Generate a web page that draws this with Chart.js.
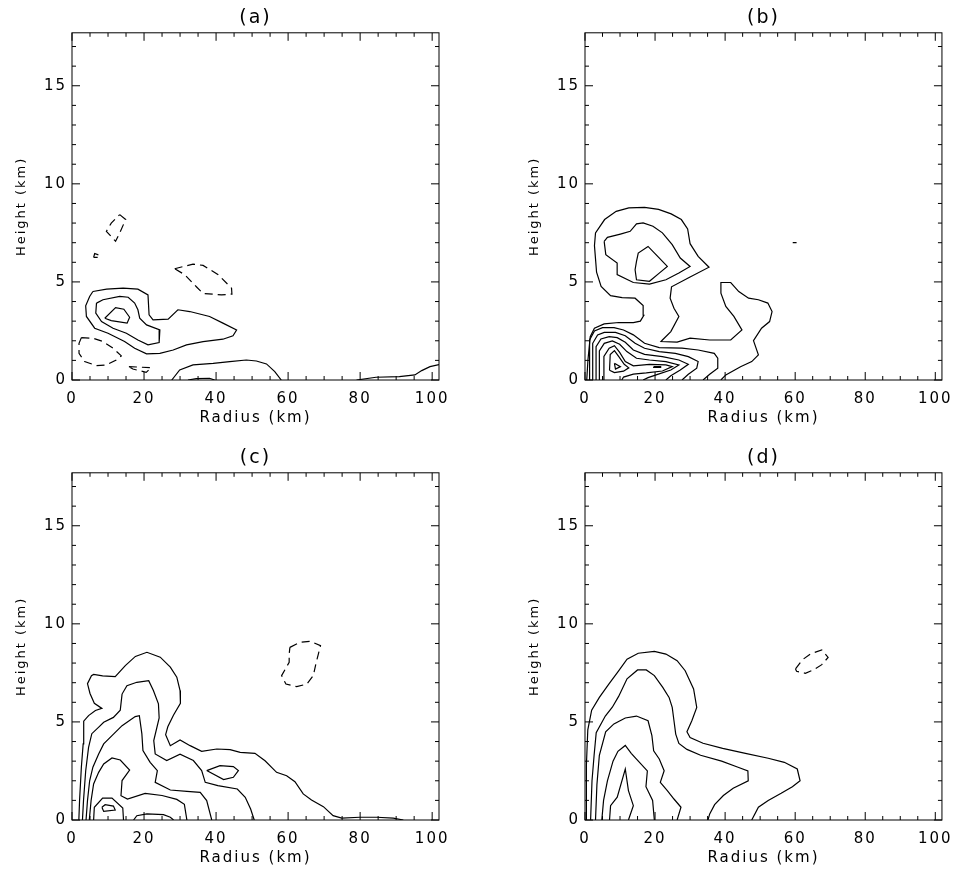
<!DOCTYPE html>
<html>
<head>
<meta charset="utf-8">
<script src="https://cdn.jsdelivr.net/npm/chart.js@4.4.1/dist/chart.umd.min.js"></script>
<style>
  body { margin: 0; background: #fff; width: 963px; height: 871px; overflow: hidden; position: relative; }
  .painel { position: absolute; }
  canvas { display: block; }
</style>
</head>
<body>
<div class="painel" style="left:0;top:0"><canvas id="grafA" width="481" height="430"></canvas></div>
<div class="painel" style="left:513px;top:0"><canvas id="grafB" width="450" height="430"></canvas></div>
<div class="painel" style="left:0;top:440px"><canvas id="grafC" width="481" height="430"></canvas></div>
<div class="painel" style="left:513px;top:440px"><canvas id="grafD" width="450" height="430"></canvas></div>
<script>
// contour lines, [radius km, height km]

const panelLabels = ['(a)', '(b)', '(c)', '(d)'];

// (a)
const aOuter = [[5.8,4.51],[9.6,4.63],[14.2,4.68],[18.3,4.63],[21.1,4.34],[21.4,3.32],[22.5,3.07],[26.7,3.1],[29.4,3.58],[32.7,3.49],[38.2,3.24],[41.9,2.9],[45.7,2.55],[44.7,2.25],[41.9,2.08],[36.4,1.96],[31.8,1.79],[28.1,1.53],[24.4,1.36],[20.7,1.33],[17.4,1.62],[14.6,1.96],[10.0,2.38],[6.3,2.64],[4.0,3.24],[3.8,3.78],[4.9,4.26],[5.8,4.51]];
const aMiddle = [[6.8,3.92],[8.6,4.09],[13.25,4.26],[15.6,4.22],[17.4,3.92],[18.3,3.58],[18.8,3.15],[20.7,2.81],[24.4,2.55],[24.2,1.91],[21.1,1.79],[18.3,2.04],[15.1,2.38],[11.4,2.64],[8.2,2.98],[6.6,3.41],[6.8,3.92]];
const aInner = [[9.1,3.15],[12.1,3.69],[14.4,3.61],[16.0,3.2],[15.3,2.9],[10.9,3.03],[9.1,3.15]];
const aLow = [[27.7,0],[29.9,0.51],[33.6,0.77],[39.2,0.85],[43.8,0.94],[48.4,1.02],[51.2,0.97],[54.0,0.82],[56.3,0.43],[58.1,0]];
const aLowCore = [[32.2,0],[34.5,0.07],[38.2,0.09],[39.6,0]];
const aEdge = [[79,0],[84.4,0.14],[90.9,0.17],[95.2,0.26],[97.1,0.48],[99.4,0.68],[101.9,0.78]];
const aNeg1 = [[13.25,8.43],[14.9,8.18],[13.25,7.5],[12.1,7.07],[9.55,7.58],[10.9,8.0],[13.25,8.43]];
const aNeg2 = [[6.0,6.25],[6.3,6.45],[7.8,6.35],[7.2,6.25],[6.0,6.25]];
const aNeg3 = [[28.5,5.67],[33.6,5.91],[36.4,5.84],[40.6,5.37],[44.3,4.68],[44.4,4.38],[41.5,4.34],[36.4,4.41],[34.6,4.74],[31.3,5.37],[28.5,5.67]];
const aNeg4 = [[2.6,2.16],[5.8,2.13],[8.6,1.96],[11.4,1.62],[13.7,1.23],[12.3,1.02],[9.55,0.77],[6.8,0.73],[3.5,0.94],[1.95,1.36],[1.95,1.87],[2.6,2.16]];
const aNeg5 = [[15.8,0.68],[22.0,0.63],[20.6,0.39],[16.9,0.56],[15.8,0.68]];

// (b)
const bOuter = [[0.5,0],[0.84,1.02],[1.49,2.21],[2.69,2.64],[5.47,2.86],[9.64,2.93],[13.8,2.93],[15.8,3.0],[16.8,3.3],[16.6,3.8],[14.3,4.17],[10.6,4.2],[7.3,4.3],[4.6,4.77],[3.3,5.5],[2.7,6.85],[3.0,7.5],[5.6,8.18],[8.9,8.6],[12.5,8.77],[17.0,8.8],[21.0,8.7],[24.6,8.47],[27.5,8.18],[29.3,7.7],[30.0,6.95],[32.3,6.3],[35.4,5.75],[30.0,5.25],[24.7,4.75],[24.3,4.17],[25.4,3.66],[26.8,3.24],[24.5,2.47],[22.1,2.04],[21.7,1.96],[26.3,1.93],[30.0,2.13],[35.6,2.04],[41.6,2.04],[44.8,2.55],[42.5,3.24],[40.2,3.75],[38.8,4.43],[38.8,4.97],[41.6,4.97],[43.9,4.51],[46.7,4.17],[49.5,4.09],[52.2,3.92],[53.4,3.49],[52.7,2.98],[50.4,2.64],[48.1,2.01],[49.5,1.28],[47.6,0.94],[44.4,0.68],[40.2,0.26],[38.8,0]];
const bRing2 = [[5.47,7.07],[5.94,6.39],[9.18,5.96],[9.18,5.37],[13.8,4.97],[18.4,4.89],[23.1,5.11],[26.8,5.45],[30.0,5.79],[27.2,6.22],[24.9,6.9],[22.1,7.5],[19.4,7.84],[16.6,8.01],[14.7,7.96],[12.9,7.58],[10.1,7.44],[6.4,7.27],[5.47,7.07]];
const bRing3 = [[14.7,6.05],[15.2,6.47],[18.0,6.81],[20.75,6.3],[23.5,5.79],[21.2,5.45],[18.4,5.03],[14.7,5.11],[14.3,5.62],[14.7,6.05]];
const bLow2 = [[1.31,0],[1.31,2.04],[2.7,2.5],[5.0,2.67],[8.3,2.67],[11.0,2.55],[13.8,2.3],[17.0,1.87],[21.2,1.65],[27.7,1.62],[32.3,1.53],[36.9,1.36],[37.9,1.11],[37.9,0.6],[35.6,0.29],[33.7,0]];
const bLow3 = [[2.2,0],[2.2,1.87],[3.6,2.3],[5.5,2.43],[8.7,2.43],[11.5,2.26],[14.3,1.87],[17.0,1.62],[21.2,1.45],[25.8,1.36],[29.5,1.19],[32.3,0.94],[31.9,0.6],[29.5,0.29],[27.7,0]];
const bLow4 = [[3.16,0],[3.16,1.7],[4.55,2.09],[6.9,2.21],[9.2,2.16],[11.5,1.92],[13.8,1.53],[17.0,1.31],[22.1,1.19],[26.8,1.02],[29.5,0.8],[27.2,0.51],[24.5,0.22],[23.1,0]];
const bLow5 = [[4.1,0],[4.1,1.48],[5.5,1.87],[7.8,1.99],[9.9,1.82],[11.95,1.45],[14.7,1.11],[18.4,1.02],[23.1,0.94],[26.8,0.77],[24.5,0.51],[20.75,0.29],[18.0,0.12],[16.6,0]];
const bLow6 = [[5.2,0],[5.4,1.2],[6.9,1.62],[8.4,1.75],[9.9,1.41],[11.5,0.94],[13.8,0.72],[18.4,0.8],[23.1,0.77],[24.9,0.68],[22.1,0.46],[17.5,0.36],[13.8,0.3],[11.0,0.15],[10.5,0]];
const bLow7 = [[7.0,0.5],[7.2,1.3],[8.4,1.5],[9.6,1.2],[11.2,0.8],[12.5,0.62],[11.0,0.45],[8.4,0.38],[7.0,0.5]];
const bCore = [[8.4,0.85],[10.1,0.68],[8.7,0.56],[8.4,0.85]];
const bDash = [[19.6,0.68],[21.6,0.68],[21.6,0.64],[19.6,0.64],[19.6,0.68]];
const bDot = [[59.3,7.0],[60.4,7.0]];

// (c)
const cOuter = [[1.9,0],[2.1,0.99],[2.6,2.69],[3.1,3.88],[3.3,4.56],[3.2,5.04],[4.6,5.32],[6.5,5.58],[8.3,5.69],[6.2,5.95],[5.0,6.45],[4.3,6.95],[5.4,7.36],[6.0,7.42],[8.5,7.35],[12.0,7.31],[14.8,7.87],[17.6,8.34],[20.8,8.55],[24.5,8.3],[27.3,7.79],[29.1,7.28],[30.0,6.6],[30.1,5.95],[28.2,5.35],[26.6,4.75],[26.0,4.35],[27.3,3.79],[30.0,4.08],[32.8,3.79],[36.0,3.5],[40.2,3.62],[43.9,3.59],[46.7,3.45],[50.8,3.4],[53.6,3.02],[56.8,2.43],[59.6,2.26],[61.9,1.95],[64.2,1.33],[66.5,1.02],[69.8,0.68],[72.5,0.22],[74.9,0.1],[79.9,0.14],[84.6,0.14],[89.2,0.1],[92.0,0]];
const cRing2 = [[2.9,0],[3.2,1.0],[3.8,2.5],[4.6,3.7],[5.5,4.4],[7.5,4.75],[8.8,4.98],[11.5,5.23],[13.4,5.6],[13.9,6.42],[15.25,6.85],[18.0,7.02],[21.3,7.1],[22.6,6.6],[24.0,5.92],[24.2,5.2],[22.7,4.05],[23.1,3.37],[26.3,3.03],[30.0,3.35],[33.7,3.03],[36.0,2.52],[37.0,1.92],[40.5,1.75],[45.9,1.58],[48.1,1.16],[49.6,0.56],[50.6,0]];
const cRing3 = [[3.9,0],[4.3,0.99],[4.9,2.0],[5.8,2.69],[7.4,3.37],[8.8,3.88],[11.1,4.3],[13.9,4.81],[17.55,5.27],[18.7,5.32],[19.4,4.39],[19.7,3.54],[21.7,2.94],[23.7,2.52],[23.1,1.92],[27.3,1.53],[31.9,1.46],[35.6,1.41],[37.4,0.99],[38.8,0]];
const cRing4 = [[4.8,0],[5.3,0.99],[6.0,1.84],[7.4,2.43],[8.8,2.86],[11.1,3.16],[13.4,3.06],[16.0,2.55],[13.9,2.01],[13.6,1.24],[15.4,1.07],[20.3,1.36],[25.0,1.25],[29.1,1.05],[31.2,0.8],[31.9,0]];
const cLoop = [[6.0,0],[6.2,0.65],[8.5,1.12],[11.1,1.12],[14.1,0.61],[14.3,0]];
const cCore = [[8.3,0.65],[9.2,0.78],[11.5,0.71],[12.0,0.51],[8.8,0.44],[8.3,0.65]];
const cHump = [[17.1,0],[18.0,0.22],[20.8,0.31],[25.4,0.27],[27.3,0.14],[28.2,0]];
const cBlob = [[37.4,2.52],[41.1,2.77],[44.8,2.72],[46.2,2.52],[44.8,2.18],[42.1,2.06],[37.4,2.52]];
const cNeg = [[60.5,8.8],[63.3,9.06],[66.1,9.11],[69.0,8.89],[68.4,8.46],[67.7,7.95],[67.0,7.36],[65.2,6.93],[62.4,6.8],[59.4,6.93],[58.2,7.36],[59.4,7.75],[60.3,8.04],[60.3,8.46],[60.5,8.8]];

// (d)
const dOuter = [[0.3,0],[0.4,2.8],[0.8,4.6],[1.9,5.6],[4.1,6.25],[6.9,6.95],[9.6,7.6],[12.0,8.2],[15.2,8.5],[19.8,8.6],[23.1,8.46],[26.3,8.12],[28.6,7.61],[31.0,6.68],[31.9,5.74],[30.5,5.06],[29.1,4.5],[30.0,4.2],[33.7,3.91],[39.3,3.65],[45.8,3.4],[52.3,3.15],[56.9,2.94],[60.6,2.6],[61.4,2.0],[59.2,1.7],[56.0,1.36],[52.3,0.99],[49.5,0.65],[47.6,0]];
const dRing2 = [[1.6,0],[2.0,2.0],[2.6,3.3],[3.2,4.45],[5.8,5.3],[7.8,5.75],[9.6,6.3],[12.0,7.2],[15.0,7.65],[17.5,7.65],[19.8,7.36],[22.2,6.76],[24.0,6.25],[24.9,5.74],[25.4,5.06],[25.9,4.38],[26.8,3.9],[29.1,3.6],[33.0,3.3],[39.0,3.0],[43.5,2.7],[46.5,2.5],[46.6,2.0],[42.3,1.62],[39.5,1.25],[37.0,0.78],[35.6,0.31],[35.1,0]];
const dRing3 = [[3.0,0],[3.4,1.8],[4.1,3.3],[5.9,4.5],[8.25,4.9],[11.5,5.2],[14.7,5.3],[18.0,5.06],[19.1,4.3],[19.6,3.53],[21.2,3.11],[22.6,2.51],[21.5,1.92],[23.5,1.5],[25.4,1.07],[27.4,0.65],[26.3,0]];
const dRing4 = [[4.8,0],[5.3,1.0],[6.4,2.0],[8.0,3.0],[9.4,3.5],[11.5,3.8],[13.2,3.4],[14.7,3.1],[17.8,2.5],[17.4,1.7],[19.3,1.0],[19.8,0]];
const dRing5 = [[7.0,0],[7.3,0.73],[9.2,1.16],[11.5,2.6],[12.4,1.5],[13.8,0.73],[12.4,0]];
const dNeg = [[60.1,7.7],[62.0,8.16],[64.3,8.46],[67.6,8.67],[69.4,8.29],[67.6,7.92],[65.2,7.65],[62.9,7.48],[60.4,7.58],[60.1,7.7]];

const FONT = 'DejaVu Sans';

// solid lines are positive, dashed negative
function contour(points, dashed) {
    return {
        data: points.map(p => ({x: p[0], y: p[1]})),
        showLine: true,
        borderColor: '#000',
        borderWidth: 1.2,
        borderDash: dashed ? [8, 5] : [],
        pointRadius: 0,
        tension: 0
    };
}

// box frame with inward ticks on all four sides
const frameTicks = {
    id: 'frameTicks',
    beforeUpdate(chart) { chart.ctx.letterSpacing = '2px'; },
    beforeDraw(chart) { chart.ctx.letterSpacing = '2px'; },
    afterDraw(chart) {
        const {ctx, chartArea: a, scales: {x, y}} = chart;
        ctx.save();
        ctx.strokeStyle = '#000';
        ctx.lineWidth = 1;
        ctx.strokeRect(a.left, a.top, a.right - a.left, a.bottom - a.top);
        ctx.beginPath();
        for (let v = 0; v <= 100; v += 5) {
            const px = x.getPixelForValue(v);
            const len = v % 20 === 0 ? 8 : 4;
            ctx.moveTo(px, a.bottom); ctx.lineTo(px, a.bottom - len);
            ctx.moveTo(px, a.top); ctx.lineTo(px, a.top + len);
        }
        for (let v = 0; v <= 17; v++) {
            const py = y.getPixelForValue(v);
            const len = v % 5 === 0 ? 8 : 4;
            ctx.moveTo(a.left, py); ctx.lineTo(a.left + len, py);
            ctx.moveTo(a.right, py); ctx.lineTo(a.right - len, py);
        }
        ctx.stroke();
        ctx.restore();
    }
};

function desenhaPainel(id, label, linhas, padRight) {
    new Chart(document.getElementById(id), {
        type: 'scatter',
        data: { datasets: linhas.map(l => contour(l[0], l[1])) },
        options: {
            responsive: false,
            animation: false,
            events: [],
            layout: { padding: { left: 0, right: padRight, top: 0, bottom: 0 } },
            plugins: {
                legend: { display: false },
                tooltip: { enabled: false },
                title: {
                    display: true, text: label, fullSize: false, color: '#000',
                    font: { family: FONT, size: 19, weight: 'normal' },
                    padding: { top: 7, bottom: 3 }
                }
            },
            scales: {
                x: {
                    type: 'linear', min: 0, max: 101.9,
                    grid: { display: false, drawTicks: false },
                    border: { display: false },
                    ticks: {
                        stepSize: 20, includeBounds: false, autoSkip: false, maxRotation: 0,
                        padding: 10, color: '#000', font: { family: FONT, size: 15 }
                    },
                    title: {
                        display: true, text: 'Radius (km)', color: '#000',
                        font: { family: FONT, size: 15 }, padding: { top: 0, bottom: 3 }
                    },
                    afterFit(s) { s.height = 50; }
                },
                y: {
                    type: 'linear', min: 0, max: 17.7,
                    grid: { display: false, drawTicks: false },
                    border: { display: false },
                    ticks: {
                        stepSize: 5, includeBounds: false, autoSkip: false,
                        padding: 5, color: '#000', font: { family: FONT, size: 15 }
                    },
                    title: {
                        display: true, text: 'Height (km)', color: '#000',
                        font: { family: FONT, size: 13 }, padding: { top: 14, bottom: 0 }
                    },
                    afterFit(s) { s.width = 72; }
                }
            }
        },
        plugins: [frameTicks]
    });
}

desenhaPainel('grafA', panelLabels[0], [
    [aOuter, false], [aMiddle, false], [aInner, false], [aLow, false], [aLowCore, false], [aEdge, false],
    [aNeg1, true], [aNeg2, true], [aNeg3, true], [aNeg4, true], [aNeg5, true]
], 42);

desenhaPainel('grafB', panelLabels[1], [
    [bOuter, false], [bRing2, false], [bRing3, false], [bLow2, false], [bLow3, false], [bLow4, false],
    [bLow5, false], [bLow6, false], [bLow7, false], [bCore, false], [bDash, false], [bDot, false]
], 11);

desenhaPainel('grafC', panelLabels[2], [
    [cOuter, false], [cRing2, false], [cRing3, false], [cRing4, false], [cLoop, false], [cCore, false],
    [cHump, false], [cBlob, false], [cNeg, true]
], 42);

desenhaPainel('grafD', panelLabels[3], [
    [dOuter, false], [dRing2, false], [dRing3, false], [dRing4, false], [dRing5, false], [dNeg, true]
], 11);
</script>
</body>
</html>
